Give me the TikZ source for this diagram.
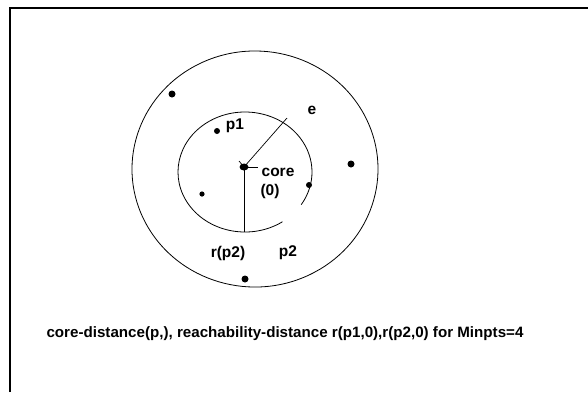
\documentclass[tikz,border=0pt]{standalone}
\usepackage{fontspec}
\setmainfont{Liberation Sans}
\usepackage{tikz}
\usetikzlibrary{positioning,calc,shapes.geometric}

\begin{document}
\begin{tikzpicture}[x=1pt, y=-1pt,
    pt/.style={fill=black, draw=none},
    lbl/.style={font=\fontsize{15.5}{17}\selectfont\bfseries, inner sep=0pt},
    ring/.style={draw, line width=0.8pt},
    frame/.style={line width=2pt}
]
\useasboundingbox (0,0) rectangle (588,392);
% frame (only top and left edges show)
\draw[frame] (10,392) -- (10,8) -- (588,8);

% centres of the two rings
\coordinate (oc) at (255,169);
\coordinate (ic) at (245,172);

% outer ring, closed with a small kink at the lower right
\draw[ring] ([shift={(62:123 and 118)}]oc) arc[start angle=62, end angle=418, x radius=123, y radius=118] -- cycle;
% inner ring, open at the lower right
\draw[ring] ([shift={(56:67 and 60)}]ic) arc[start angle=56, end angle=393, x radius=67, y radius=60];

% core point and its radii
\node[pt, ellipse, minimum width=9pt, minimum height=7pt, inner sep=0pt] (core) at (244,167) {};
\coordinate (eend) at (287,118);
\coordinate (rend) at (244,232);
\draw[line width=0.7pt] (core.center) -- (eend);
\draw[line width=0.9pt] (core.center) -- (rend);
\draw[line width=0.7pt] (239,161) -- (core.center);
\draw[line width=0.9pt] (core.center) -- (258,167);

% other points
\fill (172,94) circle (3.5);
\fill (217,131) circle (3);
\fill (202,194) circle (2.6);
\fill (351,164) circle (3.5);
\fill (309,185) circle (3);
\fill (245,279) circle (3.5);

% labels
\node[lbl] (le) at (312,110) {e};
\node[lbl] (lp1) at (235,126) {p1};
\node[lbl] (lcore) at (278,172) {core};
\node[lbl] (lzero) at (270,191) {(0)};
\node[lbl] (lrp2) at (228,253) {r(p2)};
\node[lbl] (lp2) at (288,253) {p2};

\node[font=\fontsize{15}{17}\selectfont\bfseries, inner sep=0pt] (cap) at (285,334)
    {\scalebox{1.01}[1]{core-distance(p,), reachability-distance r(p1,0),r(p2,0) for Minpts=4}};
\end{tikzpicture}
\end{document}
